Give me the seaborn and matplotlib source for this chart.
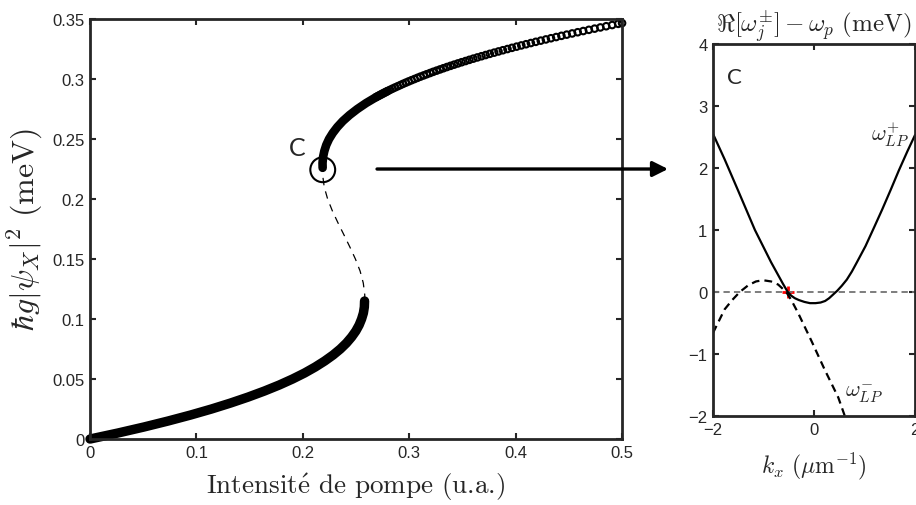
import seaborn as sns
import matplotlib.pyplot as plt

# bistability curve, pump intensity vs exciton density
lower_n = [0, 0.005, 0.01, 0.015, 0.02, 0.025, 0.03, 0.035, 0.04, 0.045, 0.05, 0.055,
           0.06, 0.065, 0.07, 0.075, 0.08, 0.085, 0.09, 0.095, 0.1, 0.105, 0.11, 0.115]
lower_I = [0, 0.0262, 0.0506, 0.0733, 0.0945, 0.1141, 0.1321, 0.1487, 0.1639, 0.1778, 0.1903, 0.2016,
           0.2116, 0.2205, 0.2284, 0.2352, 0.2410, 0.2458, 0.2498, 0.2529, 0.2552, 0.2569, 0.2578, 0.2580]

middle_n = [0.115, 0.12, 0.13, 0.14, 0.15, 0.16, 0.17, 0.18, 0.19, 0.20, 0.21, 0.22, 0.226]
middle_I = [0.2580, 0.2582, 0.2568, 0.2538, 0.2494, 0.2442, 0.2387, 0.2331, 0.2278, 0.2233, 0.2201, 0.2186, 0.2186]

knee_n = [0.226, 0.23, 0.235, 0.24, 0.245, 0.25, 0.255, 0.26, 0.265, 0.27, 0.275, 0.28, 0.285, 0.29]
knee_I = [0.2186, 0.2185, 0.2190, 0.2202, 0.2220, 0.2246, 0.2281, 0.2324, 0.2376, 0.2439, 0.2512, 0.2595, 0.2690, 0.2797]

upper_n = [0.285, 0.286, 0.287, 0.288, 0.289, 0.290, 0.291, 0.292, 0.293, 0.294, 0.295, 0.296,
           0.297, 0.298, 0.299, 0.300, 0.301, 0.302, 0.303, 0.304, 0.305, 0.306, 0.307, 0.308,
           0.309, 0.310, 0.311, 0.312, 0.313, 0.314, 0.315, 0.316, 0.317, 0.318, 0.319, 0.320,
           0.321, 0.322, 0.323, 0.324, 0.325, 0.326, 0.327, 0.328, 0.329, 0.330, 0.331, 0.332,
           0.333, 0.334, 0.335, 0.336, 0.337, 0.338, 0.339, 0.340, 0.341, 0.342, 0.343, 0.344,
           0.345, 0.346, 0.3466]
upper_I = [0.2690, 0.2711, 0.2732, 0.2753, 0.2775, 0.2797, 0.2820, 0.2843, 0.2867, 0.2892, 0.2917, 0.2942,
           0.2968, 0.2994, 0.3021, 0.3049, 0.3077, 0.3105, 0.3135, 0.3164, 0.3195, 0.3225, 0.3257, 0.3289,
           0.3321, 0.3354, 0.3388, 0.3422, 0.3457, 0.3492, 0.3529, 0.3565, 0.3602, 0.3640, 0.3679, 0.3718,
           0.3757, 0.3798, 0.3839, 0.3880, 0.3923, 0.3965, 0.4009, 0.4053, 0.4098, 0.4143, 0.4189, 0.4236,
           0.4284, 0.4332, 0.4381, 0.4430, 0.4480, 0.4531, 0.4583, 0.4635, 0.4688, 0.4742, 0.4796, 0.4851,
           0.4907, 0.4964, 0.5000]

point_C_I = [0.2187]
point_C_n = [0.2244]

x_ticks = [0, 0.1, 0.2, 0.3, 0.4, 0.5]
x_labels = ["0", "0.1", "0.2", "0.3", "0.4", "0.5"]
y_ticks = [0, 0.05, 0.1, 0.15, 0.2, 0.25, 0.3, 0.35]
y_labels = ["0", "0.05", "0.1", "0.15", "0.2", "0.25", "0.3", "0.35"]

# Bogoliubov branches at point C
k_plus = [-2.0, -1.77, -1.5, -1.17, -0.85, -0.62, -0.52, -0.45, -0.38, -0.3, -0.19, -0.08,
          0.03, 0.13, 0.22, 0.3, 0.38, 0.46, 0.55, 0.65, 0.75, 0.85, 1.02, 1.2, 1.35, 1.52,
          1.68, 1.85, 2.0]
w_plus = [2.55, 2.14, 1.63, 1.0, 0.48, 0.14, 0.0, -0.06, -0.1, -0.13, -0.16, -0.18,
          -0.18, -0.17, -0.145, -0.1, -0.04, 0.02, 0.1, 0.2, 0.33, 0.48, 0.74, 1.06, 1.33, 1.65,
          1.96, 2.27, 2.53]
k_minus = [-2.0, -1.77, -1.62, -1.47, -1.3, -1.15, -1.01, -0.85, -0.71, -0.55, -0.45, -0.32,
           -0.05, 0.21, 0.48, 0.61]
w_minus = [-0.66, -0.28, -0.13, 0.0, 0.11, 0.17, 0.19, 0.17, 0.12, 0.0, -0.13, -0.33,
           -0.79, -1.25, -1.70, -2.0]
pump_k = [-0.52]
pump_w = [0.0]

sns.set_style("ticks")
plt.rcParams['font.family'] = ['Liberation Sans', 'DejaVu Sans']
plt.rcParams['mathtext.fontset'] = 'cm'
plt.rcParams['axes.linewidth'] = 2.0

fig = plt.figure(figsize=(9.16, 5.06), dpi=100)
ax1 = fig.add_axes([0.0983, 0.1304, 0.5808, 0.8300])
ax2 = fig.add_axes([0.7784, 0.1759, 0.2205, 0.7352])

# left panel
sns.lineplot(x=lower_I, y=lower_n, sort=False, estimator=None, color="black",
             linewidth=6.8, solid_capstyle="round", ax=ax1)
ax1.lines[-1].set_clip_on(False)
sns.lineplot(x=middle_I, y=middle_n, sort=False, estimator=None, color="black",
             linewidth=0.9, linestyle=(0, (6, 5)), ax=ax1)
sns.lineplot(x=knee_I, y=knee_n, sort=False, estimator=None, color="black",
             linewidth=6.2, solid_capstyle="round", ax=ax1)
sns.scatterplot(x=upper_I, y=upper_n, marker="o", s=22, facecolor="none",
                edgecolor="black", linewidth=1.5, ax=ax1)
ax1.collections[-1].set_clip_on(False)
sns.scatterplot(x=point_C_I, y=point_C_n, marker="o", s=320, facecolor="none",
                edgecolor="black", linewidth=1.5, ax=ax1)
ax1.text(0.195, 0.243, "C", family="Lato", fontsize=18, ha="center", va="center")

ax1.set_xlim(0, 0.5)
ax1.set_ylim(0, 0.35)
ax1.set_xticks(x_ticks)
ax1.set_xticklabels(x_labels)
ax1.set_yticks(y_ticks)
ax1.set_yticklabels(y_labels)
ax1.tick_params(direction="in", top=True, right=True, length=4, width=1.5, labelsize=12, pad=4)
ax1.set_xlabel("Intensit$\\acute{\\mathrm{e}}$ de pompe (u.a.)", family="cmr10", fontsize=19.5)
ax1.xaxis.set_label_coords(0.5, -0.076)
ax1.set_ylabel(r"$\hbar g|\psi_X|^2\ \mathrm{(meV)}$", fontsize=23)
ax1.yaxis.set_label_coords(-0.085, 0.5)

# right panel
ax2.axhline(0, color="0.45", linewidth=1.3, linestyle=(0, (3.5, 2.3)))
sns.lineplot(x=k_plus, y=w_plus, sort=False, estimator=None, color="black",
             linewidth=1.6, ax=ax2)
sns.lineplot(x=k_minus, y=w_minus, sort=False, estimator=None, color="black",
             linewidth=1.6, linestyle=(0, (3.5, 2.3)), ax=ax2)
sns.scatterplot(x=pump_k, y=pump_w, marker="+", s=70, color="red", linewidth=2, ax=ax2)
ax2.text(-1.58, 3.46, "C", family="Lato", fontsize=16, ha="center", va="center")
ax2.text(1.5, 2.56, r"$\omega_{LP}^{+}$", fontsize=16, ha="center", va="center")
ax2.text(1.0, -1.62, r"$\omega_{LP}^{-}$", fontsize=16, ha="center", va="center")

ax2.set_xlim(-2, 2)
ax2.set_ylim(-2, 4)
ax2.set_xticks([-2, 0, 2])
ax2.set_yticks([-2, -1, 0, 1, 2, 3, 4])
ax2.tick_params(direction="in", top=True, right=True, length=4, width=1.5, labelsize=12, pad=4)
ax2.set_title(r"$\Re[\omega_j^{\pm}] - \omega_p\ \mathrm{(meV)}$", fontsize=18, pad=9)
ax2.set_xlabel(r"$k_x\ (\mu\mathrm{m}^{-1})$", fontsize=17)
ax2.xaxis.set_label_coords(0.5, -0.092)
ax2.set_ylabel("")

# arrow from point C to its spectrum
ax1.annotate("", xy=(0.7293, 0.664), xytext=(0.4116, 0.664),
             xycoords="figure fraction", textcoords="figure fraction",
             arrowprops=dict(arrowstyle="-|>", lw=2.4, color="black",
                             mutation_scale=23, shrinkA=0, shrinkB=0),
             annotation_clip=False)

fig.savefig("out.png", dpi=100)
